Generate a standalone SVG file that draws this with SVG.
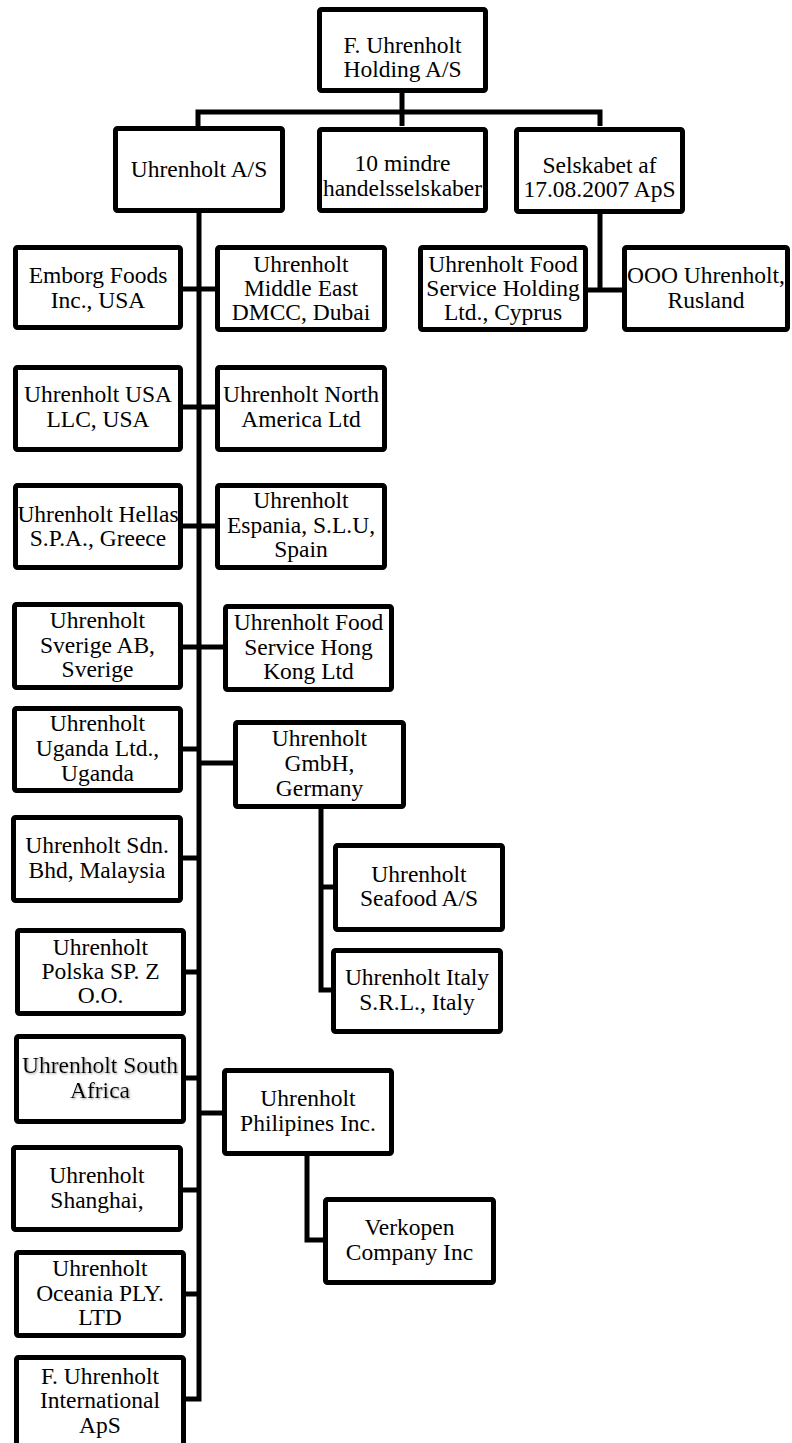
<svg xmlns="http://www.w3.org/2000/svg" width="792" height="1443" viewBox="0 0 792 1443">
<style>
.box{fill:#fff;stroke:#000;stroke-width:5;}
.t{font-family:"Liberation Serif","Times New Roman",serif;font-size:23.5px;fill:#000;text-anchor:middle;}
.c{fill:none;stroke:#000;stroke-width:5;stroke-linejoin:miter;stroke-linecap:butt;}
</style>
<defs>
<filter id="sh" x="-10%" y="-30%" width="120%" height="160%">
<feDropShadow dx="1" dy="1" stdDeviation="0.8" flood-color="#888" flood-opacity="0.8"/>
</filter>
</defs>
<rect width="792" height="1443" fill="#fff"/>
<g id="connectors">
<path class="c" d="M402,93 V126"/>
<path class="c" d="M198,126 V112 H600 V126"/>
<path class="c" d="M600,214 V290"/>
<path class="c" d="M588,290 H622"/>
<path class="c" d="M186,1399 H199 V213"/>
<path class="c" d="M183,289 H215"/>
<path class="c" d="M183,407 H215"/>
<path class="c" d="M183,526 H215"/>
<path class="c" d="M183,647 H223"/>
<path class="c" d="M183,749 H199"/>
<path class="c" d="M199,763 H233"/>
<path class="c" d="M183,858 H199"/>
<path class="c" d="M186,972 H199"/>
<path class="c" d="M186,1078 H199"/>
<path class="c" d="M199,1113 H222"/>
<path class="c" d="M183,1190 H199"/>
<path class="c" d="M186,1294 H199"/>
<path class="c" d="M321,809 V990 H333"/>
<path class="c" d="M321,887 H335"/>
<path class="c" d="M307,1156 V1240 H325"/>
</g>
<g id="n-holding"><rect class="box" x="319.5" y="9.5" width="166" height="81" rx="2"/><text class="t" x="402.5" y="53">F. Uhrenholt</text><text class="t" x="402.5" y="77">Holding A/S</text></g>
<g id="n-uhrenholt-as"><rect class="box" x="115.5" y="128.5" width="167" height="82" rx="2"/><text class="t" x="199" y="177">Uhrenholt A/S</text></g>
<g id="n-mindre"><rect class="box" x="319.5" y="129.5" width="166" height="81" rx="2"/><text class="t" x="402.5" y="171">10 mindre</text><text class="t" x="402.5" y="196">handelsselskaber</text></g>
<g id="n-selskabet"><rect class="box" x="516.5" y="129.5" width="166" height="82" rx="2"/><text class="t" x="599.5" y="173">Selskabet af</text><text class="t" x="599.5" y="197">17.08.2007 ApS</text></g>
<g id="n-cyprus"><rect class="box" x="420.5" y="247.5" width="165" height="82" rx="2"/><text class="t" x="503" y="272">Uhrenholt Food</text><text class="t" x="503" y="296">Service Holding</text><text class="t" x="503" y="320">Ltd., Cyprus</text></g>
<g id="n-ooo"><rect class="box" x="624.5" y="247.5" width="163" height="82" rx="2"/><text class="t" x="706" y="283">OOO Uhrenholt,</text><text class="t" x="706" y="308">Rusland</text></g>
<g id="n-emborg"><rect class="box" x="15.5" y="247.5" width="165" height="80" rx="2"/><text class="t" x="98" y="283">Emborg Foods</text><text class="t" x="98" y="308">Inc., USA</text></g>
<g id="n-mideast"><rect class="box" x="217.5" y="247.5" width="167" height="82" rx="2"/><text class="t" x="301" y="272">Uhrenholt</text><text class="t" x="301" y="296">Middle East</text><text class="t" x="301" y="320">DMCC, Dubai</text></g>
<g id="n-usa"><rect class="box" x="15.5" y="367.5" width="165" height="82" rx="2"/><text class="t" x="98" y="402">Uhrenholt USA</text><text class="t" x="98" y="427">LLC, USA</text></g>
<g id="n-northam"><rect class="box" x="217.5" y="367.5" width="167" height="82" rx="2"/><text class="t" x="301" y="402">Uhrenholt North</text><text class="t" x="301" y="427">America Ltd</text></g>
<g id="n-hellas"><rect class="box" x="15.5" y="485.5" width="165" height="82" rx="2"/><text class="t" x="98" y="522">Uhrenholt Hellas</text><text class="t" x="98" y="546">S.P.A., Greece</text></g>
<g id="n-espania"><rect class="box" x="217.5" y="485.5" width="167" height="82" rx="2"/><text class="t" x="301" y="508">Uhrenholt</text><text class="t" x="301" y="533">Espania, S.L.U,</text><text class="t" x="301" y="557">Spain</text></g>
<g id="n-sverige"><rect class="box" x="14.5" y="604.5" width="166" height="83" rx="2"/><text class="t" x="97.5" y="628">Uhrenholt</text><text class="t" x="97.5" y="653">Sverige AB,</text><text class="t" x="97.5" y="677">Sverige</text></g>
<g id="n-hongkong"><rect class="box" x="225.5" y="606.5" width="166" height="83" rx="2"/><text class="t" x="308.5" y="630">Uhrenholt Food</text><text class="t" x="308.5" y="655">Service Hong</text><text class="t" x="308.5" y="679">Kong Ltd</text></g>
<g id="n-uganda"><rect class="box" x="14.5" y="708.5" width="166" height="82" rx="2"/><text class="t" x="97.5" y="731">Uhrenholt</text><text class="t" x="97.5" y="756">Uganda Ltd.,</text><text class="t" x="97.5" y="780.5">Uganda</text></g>
<g id="n-gmbh"><rect class="box" x="235.5" y="722.5" width="168" height="84" rx="2"/><text class="t" x="319.5" y="746">Uhrenholt</text><text class="t" x="319.5" y="771">GmbH,</text><text class="t" x="319.5" y="795.5">Germany</text></g>
<g id="n-malaysia"><rect class="box" x="13.5" y="817.5" width="167" height="83" rx="2"/><text class="t" x="97" y="853">Uhrenholt Sdn.</text><text class="t" x="97" y="878">Bhd, Malaysia</text></g>
<g id="n-seafood"><rect class="box" x="335.5" y="845.5" width="167" height="84" rx="2"/><text class="t" x="419" y="882">Uhrenholt</text><text class="t" x="419" y="906">Seafood A/S</text></g>
<g id="n-polska"><rect class="box" x="17.5" y="930.5" width="166" height="83" rx="2"/><text class="t" x="100.5" y="955">Uhrenholt</text><text class="t" x="100.5" y="979">Polska SP. Z</text><text class="t" x="100.5" y="1003">O.O.</text></g>
<g id="n-italy"><rect class="box" x="333.5" y="950.5" width="167" height="81" rx="2"/><text class="t" x="417" y="985">Uhrenholt Italy</text><text class="t" x="417" y="1010">S.R.L., Italy</text></g>
<g id="n-southafrica"><rect class="box" x="16.5" y="1036.5" width="167" height="85" rx="2"/><g filter="url(#sh)"><text class="t" x="100" y="1073">Uhrenholt South</text><text class="t" x="100" y="1098">Africa</text></g></g>
<g id="n-philipines"><rect class="box" x="224.5" y="1070.5" width="167" height="83" rx="2"/><text class="t" x="308" y="1106">Uhrenholt</text><text class="t" x="308" y="1131">Philipines Inc.</text></g>
<g id="n-shanghai"><rect class="box" x="13.5" y="1147.5" width="167" height="82" rx="2"/><text class="t" x="97" y="1183">Uhrenholt</text><text class="t" x="97" y="1208">Shanghai,</text></g>
<g id="n-verkopen"><rect class="box" x="325.5" y="1199.5" width="168" height="83" rx="2"/><text class="t" x="409.5" y="1235">Verkopen</text><text class="t" x="409.5" y="1260">Company Inc</text></g>
<g id="n-oceania"><rect class="box" x="16.5" y="1252.5" width="167" height="83" rx="2"/><text class="t" x="100" y="1276">Uhrenholt</text><text class="t" x="100" y="1301">Oceania PLY.</text><text class="t" x="100" y="1325">LTD</text></g>
<g id="n-international"><rect class="box" x="16.5" y="1357.5" width="167" height="88" rx="2"/><text class="t" x="100" y="1384">F. Uhrenholt</text><text class="t" x="100" y="1408">International</text><text class="t" x="100" y="1433">ApS</text></g>
</svg>
